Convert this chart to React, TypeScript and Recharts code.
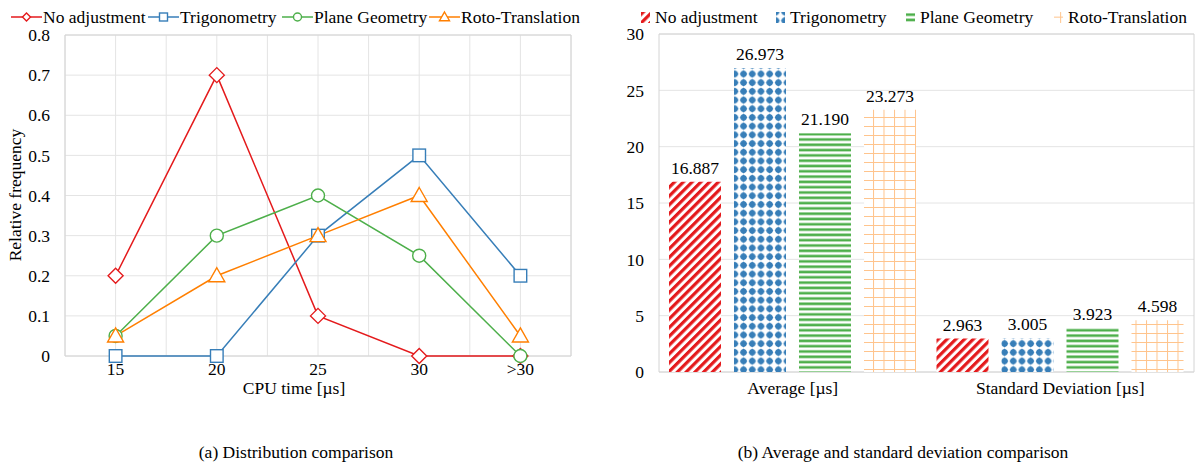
import { LineChart, Line, XAxis, YAxis, CartesianGrid, BarChart, Bar, LabelList } from "recharts";

// (a) distribution of CPU time
const cpuBins = ["15", "20", "25", "30", ">30"];
const noAdjustmentFreq = [0.2, 0.7, 0.1, 0, 0];
const trigonometryFreq = [0, 0, 0.3, 0.5, 0.2];
const planeGeometryFreq = [0.05, 0.3, 0.4, 0.25, 0];
const rotoTranslationFreq = [0.05, 0.2, 0.3, 0.4, 0.05];
const freqTicks = [0, 0.1, 0.2, 0.3, 0.4, 0.5, 0.6, 0.7, 0.8];

// (b) average and standard deviation
const statCategories = ["Average [µs]", "Standard Deviation [µs]"];
const noAdjustmentStats = [16.887, 2.963];
const trigonometryStats = [26.973, 3.005];
const planeGeometryStats = [21.19, 3.923];
const rotoTranslationStats = [23.273, 4.598];
const statTicks = [0, 5, 10, 15, 20, 25, 30];

const seriesNames = ["No adjustment", "Trigonometry", "Plane Geometry", "Roto-Translation"];
const RED = "#e41a1c";
const BLUE = "#377eb8";
const GREEN = "#4daf4a";
const ORANGE = "#ff7f00";

const lineData = cpuBins.map((bin, i) => ({
  bin,
  noAdj: noAdjustmentFreq[i],
  trig: trigonometryFreq[i],
  plane: planeGeometryFreq[i],
  roto: rotoTranslationFreq[i],
}));

const barData = statCategories.map((name, i) => ({
  name,
  noAdj: noAdjustmentStats[i],
  trig: trigonometryStats[i],
  plane: planeGeometryStats[i],
  roto: rotoTranslationStats[i],
}));

const FONT = "'Liberation Serif', 'Times New Roman', serif";
const FS = 17.5;
const GRID = "#e4e4e4";
const BORDER = "#d4d4d4";

// marker shapes
const diamond = (cx: number, cy: number, r: number, c: string, k?: any) => (
  <path key={k} d={`M${cx},${cy - r}L${cx + r},${cy}L${cx},${cy + r}L${cx - r},${cy}Z`} fill="#fff" stroke={c} strokeWidth={1.4} />
);
const square = (cx: number, cy: number, r: number, c: string, k?: any) => (
  <rect key={k} x={cx - r} y={cy - r} width={2 * r} height={2 * r} fill="#fff" stroke={c} strokeWidth={1.4} />
);
const circle = (cx: number, cy: number, r: number, c: string, k?: any) => (
  <circle key={k} cx={cx} cy={cy} r={r} fill="#fff" stroke={c} strokeWidth={1.4} />
);
const triangle = (cx: number, cy: number, r: number, c: string, k?: any) => (
  <path key={k} d={`M${cx},${cy - r}L${cx + r},${cy + r * 0.75}L${cx - r},${cy + r * 0.75}Z`} fill="#fff" stroke={c} strokeWidth={1.4} />
);

const lineSeries = [
  { key: "noAdj", color: RED, shape: diamond, size: 7.5, legend: 4 },
  { key: "trig", color: BLUE, shape: square, size: 6.3, legend: 4 },
  { key: "plane", color: GREEN, shape: circle, size: 6.5, legend: 4 },
  { key: "roto", color: ORANGE, shape: triangle, size: 8, legend: 5 },
];

const barSeries = [
  { key: "noAdj", pattern: "patRed" },
  { key: "trig", pattern: "patBlue" },
  { key: "plane", pattern: "patGreen" },
  { key: "roto", pattern: "patOrange" },
];

const leftLegendX = [11, 148, 282, 429];
const rightLegendX = [641, 776, 906, 1054];

const Patterns = () => (
  <svg width={0} height={0} style={{ position: "absolute" }}>
    <defs>
      <pattern id="patRed" patternUnits="userSpaceOnUse" width={6.2} height={6.2} patternTransform="rotate(45)">
        <rect width={6.2} height={6.2} fill="#fff" />
        <rect width={3.2} height={6.2} fill={RED} />
      </pattern>
      <pattern id="patBlue" patternUnits="userSpaceOnUse" width={8.7} height={8.7}>
        <rect width={8.7} height={8.7} fill="#fff" />
        <path d="M4.35,0.6L8.1,4.35L4.35,8.1L0.6,4.35Z" fill={BLUE} />
        <circle cx={4.35} cy={4.35} r={3.1} fill={BLUE} />
      </pattern>
      <pattern id="patGreen" patternUnits="userSpaceOnUse" width={10} height={5.3}>
        <rect width={10} height={5.3} fill="#fff" />
        <rect y={0.4} width={10} height={2.6} fill={GREEN} />
      </pattern>
      <pattern id="patOrange" patternUnits="userSpaceOnUse" width={10.5} height={9}>
        <rect width={10.5} height={9} fill="#fff" />
        <path d="M0.5,0V9M0,0.5H10.5" stroke="#ffc48c" strokeWidth={1} />
      </pattern>
    </defs>
  </svg>
);

const textStyle = { position: "absolute" as const, fontSize: FS, lineHeight: "20px", color: "#000", whiteSpace: "nowrap" as const };

const App = () => {
  return (
    <div style={{ position: "absolute", left: 0, top: 0, width: 1201, height: 464, background: "#fff", fontFamily: FONT, overflow: "hidden" }}>
      <Patterns />

      {/* legends */}
      {lineSeries.map((s, i) => (
        <div key={s.key} style={{ ...textStyle, left: leftLegendX[i], top: 7, display: "flex", alignItems: "center" }}>
          <svg width={31} height={20}>
            <line x1={0} y1={10} x2={31} y2={10} stroke={s.color} strokeWidth={1.5} />
            {s.shape(15.5, 10, s.legend, s.color)}
          </svg>
          <span style={{ marginLeft: 1 }}>{seriesNames[i]}</span>
        </div>
      ))}
      {barSeries.map((s, i) => (
        <div key={s.key} style={{ ...textStyle, left: rightLegendX[i], top: 7, display: "flex", alignItems: "center" }}>
          <svg width={9} height={11} viewBox="4.35 4.35 9 11">
            <rect x={4.35} y={4.35} width={9} height={11} fill={`url(#${s.pattern})`} />
          </svg>
          <span style={{ marginLeft: 5 }}>{seriesNames[i]}</span>
        </div>
      ))}

      {/* (a) line chart */}
      <div style={{ position: "absolute", left: 0, top: 0 }}>
        <LineChart width={600} height={464} data={lineData} margin={{ top: 35, right: 29, bottom: 66, left: 0 }}>
          <CartesianGrid
            stroke={GRID}
            horizontalCoordinatesGenerator={({ offset }: any) =>
              freqTicks.map((_, i) => offset.top + (i * offset.height) / (freqTicks.length - 1))
            }
            verticalCoordinatesGenerator={({ offset }: any) =>
              Array.from({ length: cpuBins.length * 2 + 1 }, (_, i) => offset.left + (i * offset.width) / (cpuBins.length * 2))
            }
          />
          <CartesianGrid
            stroke={BORDER}
            horizontalCoordinatesGenerator={({ offset }: any) => [offset.top, offset.top + offset.height]}
            verticalCoordinatesGenerator={({ offset }: any) => [offset.left, offset.left + offset.width]}
          />
          <XAxis
            dataKey="bin"
            height={42}
            padding={{ left: 50.6, right: 50.6 }}
            axisLine={false}
            tickLine={false}
            tickSize={0}
            tickMargin={7}
            tick={{ fill: "#000", fontSize: FS }}
            interval={0}
          />
          <YAxis
            width={65}
            domain={[0, 0.8]}
            ticks={freqTicks}
            axisLine={false}
            tickLine={false}
            tickSize={0}
            tickMargin={15}
            tick={{ fill: "#000", fontSize: FS }}
          />
          {lineSeries.map((s) => (
            <Line
              key={s.key}
              dataKey={s.key}
              stroke={s.color}
              strokeWidth={1.5}
              isAnimationActive={false}
              activeDot={false}
              dot={(p: any) => s.shape(p.cx, p.cy, s.size, s.color, `${s.key}-${p.index}`)}
            />
          ))}
        </LineChart>
      </div>

      {/* (b) bar chart */}
      <div style={{ position: "absolute", left: 600, top: 0 }}>
        <BarChart
          width={601}
          height={464}
          data={barData}
          margin={{ top: 34, right: 7, bottom: 62, left: 0 }}
          barCategoryGap={10}
          barGap={13}
        >
          <CartesianGrid stroke={GRID} vertical={false} />
          <CartesianGrid
            stroke={BORDER}
            horizontalCoordinatesGenerator={({ offset }: any) => [offset.top, offset.top + offset.height]}
            verticalCoordinatesGenerator={({ offset }: any) => [offset.left, offset.left + offset.width]}
          />
          <XAxis
            dataKey="name"
            height={30}
            axisLine={false}
            tickLine={false}
            tickSize={0}
            tickMargin={10}
            tick={{ fill: "#000", fontSize: FS }}
          />
          <YAxis
            width={59}
            domain={[0, 30]}
            ticks={statTicks}
            axisLine={false}
            tickLine={false}
            tickSize={0}
            tickMargin={15}
            tick={{ fill: "#000", fontSize: FS }}
          />
          {barSeries.map((s) => (
            <Bar key={s.key} dataKey={s.key} fill={`url(#${s.pattern})`} isAnimationActive={false}>
              <LabelList
                dataKey={s.key}
                position="top"
                offset={8}
                formatter={(v: any) => Number(v).toFixed(3)}
                style={{ fill: "#000", fontSize: FS, fontFamily: FONT }}
              />
            </Bar>
          ))}
        </BarChart>
      </div>

      {/* axis titles and captions */}
      <div style={{ ...textStyle, left: 15, top: 195, transform: "translate(-50%, -50%) rotate(-90deg)" }}>Relative frequency</div>
      <div style={{ ...textStyle, left: 294, top: 388, transform: "translate(-50%, -50%)" }}>CPU time [µs]</div>
      <div style={{ ...textStyle, left: 296, top: 452, transform: "translate(-50%, -50%)" }}>(a) Distribution comparison</div>
      <div style={{ ...textStyle, left: 903, top: 452, transform: "translate(-50%, -50%)" }}>(b) Average and standard deviation comparison</div>
    </div>
  );
};

export default App;
